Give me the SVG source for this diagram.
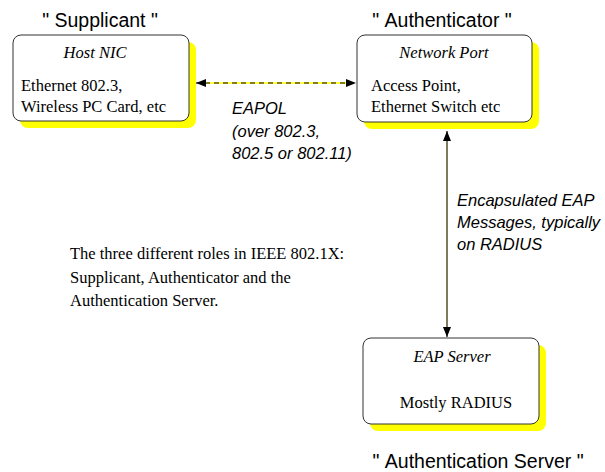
<svg xmlns="http://www.w3.org/2000/svg" width="605" height="472" viewBox="0 0 605 472">
<style>
.shadow{fill:#ffff00;stroke:none}
.box{fill:#ffffff;stroke:#333333;stroke-width:1}
.role{font-family:"Liberation Sans",Arial,sans-serif;font-size:19.5px;fill:#000;text-anchor:middle}
.title{font-family:"Liberation Serif","Times New Roman",serif;font-size:16.5px;font-style:italic;fill:#000;text-anchor:middle}
.body{font-family:"Liberation Serif","Times New Roman",serif;font-size:16.5px;fill:#000}
.lbl{font-family:"Liberation Sans",Arial,sans-serif;font-size:16.5px;font-style:italic;fill:#000}
</style>
<defs>
<marker id="ah" viewBox="0 0 10 8" refX="10" refY="4" markerWidth="10" markerHeight="8" markerUnits="userSpaceOnUse" orient="auto-start-reverse">
<path d="M0,0 L10,4 L0,8 z" fill="#000"/>
</marker>
</defs>
<g id="connectors">
<line x1="198" y1="83" x2="354" y2="83" stroke="#ffff00" stroke-width="1.5"/>
<line x1="196" y1="83" x2="356" y2="83" stroke="#000" stroke-width="1.2" stroke-dasharray="5,4" marker-start="url(#ah)" marker-end="url(#ah)"/>
<line x1="447" y1="131" x2="447" y2="337" stroke="#3a3505" stroke-width="1.3" marker-start="url(#ah)" marker-end="url(#ah)"/>
</g>
<g id="supplicant">
<rect class="shadow" x="20" y="42" width="176" height="86" rx="8"/>
<rect class="box" x="13" y="35" width="176" height="86" rx="8"/>
<text class="title" x="95" y="58">Host NIC</text>
<text class="body" x="21" y="91">Ethernet 802.3,</text>
<text class="body" x="21" y="112">Wireless PC Card, etc</text>
<text class="role" x="100" y="27">"&#160;Supplicant&#160;"</text>
</g>
<g id="authenticator">
<rect class="shadow" x="364" y="42" width="175" height="87" rx="8"/>
<rect class="box" x="357" y="35" width="175" height="87" rx="8"/>
<text class="title" x="444" y="58">Network Port</text>
<text class="body" x="371" y="91">Access Point,</text>
<text class="body" x="371" y="112">Ethernet Switch etc</text>
<text class="role" x="442" y="27">"&#160;Authenticator&#160;"</text>
</g>
<g id="server">
<rect class="shadow" x="370" y="345" width="176" height="86" rx="8"/>
<rect class="box" x="363" y="338" width="176" height="86" rx="8"/>
<text class="title" x="452" y="362">EAP Server</text>
<text class="body" x="456" y="408" text-anchor="middle">Mostly RADIUS</text>
<text class="role" x="478" y="468">"&#160;Authentication Server&#160;"</text>
</g>
<g id="labels">
<text class="lbl" x="232" y="114">EAPOL</text>
<text class="lbl" x="232" y="136.5">(over 802.3,</text>
<text class="lbl" x="232" y="159">802.5 or 802.11)</text>
<text class="lbl" x="457" y="206">Encapsulated EAP</text>
<text class="lbl" x="457" y="228">Messages, typically</text>
<text class="lbl" x="457" y="250">on RADIUS</text>
</g>
<g id="caption">
<text class="body" x="70" y="259">The three different roles in IEEE 802.1X:</text>
<text class="body" x="70" y="283">Supplicant, Authenticator and the</text>
<text class="body" x="70" y="306">Authentication Server.</text>
</g>
</svg>
